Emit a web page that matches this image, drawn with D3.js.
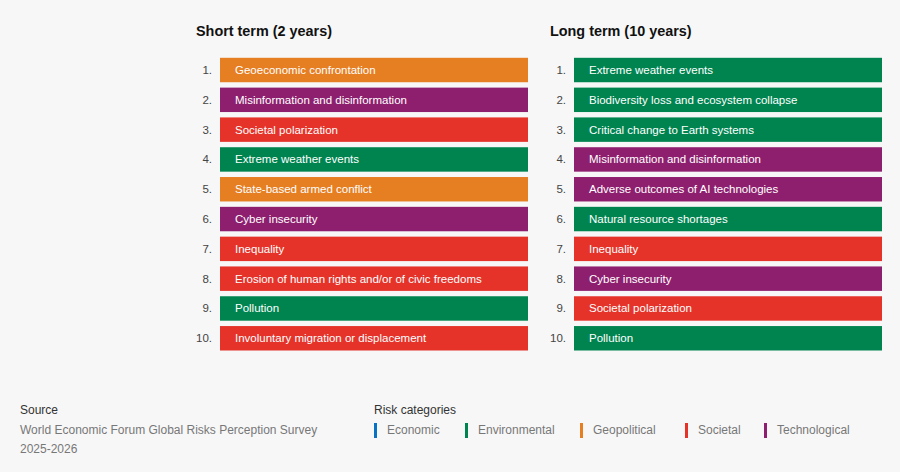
<!DOCTYPE html>
<html>
<head>
<meta charset="utf-8">
<script src="https://cdn.jsdelivr.net/npm/d3@7"></script>
<style>
  body { margin: 0; background: #f7f7f7; }
  svg { display: block; font-family: "Liberation Sans", Arial, sans-serif; }
</style>
</head>
<body>
<svg id="chart" width="900" height="472"></svg>
<script>
// risk category colours
var categories = ["Economic", "Environmental", "Geopolitical", "Societal", "Technological"];
var categoryColors = ["#0a72c2", "#00844f", "#e67e22", "#e5332a", "#8e1f6e"];

var shortTermRisks = ["Geoeconomic confrontation", "Misinformation and disinformation", "Societal polarization",
    "Extreme weather events", "State-based armed conflict", "Cyber insecurity", "Inequality",
    "Erosion of human rights and/or of civic freedoms", "Pollution", "Involuntary migration or displacement"];
var shortTermCats = ["Geopolitical", "Technological", "Societal", "Environmental", "Geopolitical",
    "Technological", "Societal", "Societal", "Environmental", "Societal"];

var longTermRisks = ["Extreme weather events", "Biodiversity loss and ecosystem collapse", "Critical change to Earth systems",
    "Misinformation and disinformation", "Adverse outcomes of AI technologies", "Natural resource shortages",
    "Inequality", "Cyber insecurity", "Societal polarization", "Pollution"];
var longTermCats = ["Environmental", "Environmental", "Environmental", "Technological", "Technological",
    "Environmental", "Societal", "Technological", "Societal", "Environmental"];

var ranks = d3.range(1, 11);

var svg = d3.select("#chart");
var color = d3.scaleOrdinal().domain(categories).range(categoryColors);

var y = d3.scaleBand()
    .domain(ranks)
    .range([57.8, 350.5])
    .paddingInner(0.18)
    .paddingOuter(0);

function drawPanel(x0, title, risks, cats) {
    var g = svg.append("g").attr("transform", "translate(" + x0 + ",0)");

    g.append("text")
        .attr("x", -24)
        .attr("y", 36)
        .attr("font-size", 14.4)
        .attr("font-weight", "bold")
        .attr("fill", "#111")
        .text(title);

    var rows = g.selectAll(".row")
        .data(ranks)
        .enter()
        .append("g")
        .attr("class", "row")
        .attr("transform", function (d) { return "translate(0," + y(d) + ")"; });

    rows.append("rect")
        .attr("width", 308)
        .attr("height", y.bandwidth())
        .attr("fill", function (d, i) { return color(cats[i]); });

    rows.append("text")
        .attr("x", -8)
        .attr("y", y.bandwidth() / 2)
        .attr("dy", "0.35em")
        .attr("text-anchor", "end")
        .attr("font-size", 11.5)
        .attr("fill", "#444")
        .text(function (d) { return d + "."; });

    rows.append("text")
        .attr("x", 15)
        .attr("y", y.bandwidth() / 2)
        .attr("dy", "0.35em")
        .attr("font-size", 11.5)
        .attr("fill", "#fff")
        .text(function (d, i) { return risks[i]; });
}

drawPanel(220, "Short term (2 years)", shortTermRisks, shortTermCats);
drawPanel(574, "Long term (10 years)", longTermRisks, longTermCats);

// source note
var src = svg.append("g").attr("transform", "translate(20,0)");
src.append("text").attr("y", 414).attr("font-size", 12).attr("fill", "#333").text("Source");
src.append("text").attr("y", 434).attr("font-size", 12).attr("fill", "#777")
    .text("World Economic Forum Global Risks Perception Survey");
src.append("text").attr("y", 453).attr("font-size", 12).attr("fill", "#777").text("2025-2026");

// legend
var legendX = [374, 465, 580, 685, 764];
var leg = svg.append("g");
leg.append("text").attr("x", 374).attr("y", 414).attr("font-size", 12).attr("fill", "#333").text("Risk categories");
var items = leg.selectAll(".item")
    .data(categories)
    .enter()
    .append("g")
    .attr("class", "item")
    .attr("transform", function (d, i) { return "translate(" + legendX[i] + ",0)"; });
items.append("rect")
    .attr("y", 423)
    .attr("width", 3)
    .attr("height", 15)
    .attr("fill", function (d) { return color(d); });
items.append("text")
    .attr("x", 13)
    .attr("y", 434)
    .attr("font-size", 12)
    .attr("fill", "#777")
    .text(function (d) { return d; });
</script>
</body>
</html>
